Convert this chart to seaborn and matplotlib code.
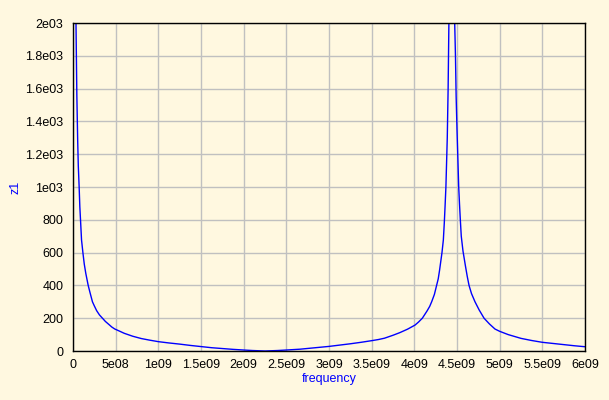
import numpy as np
import pandas as pd
import matplotlib
matplotlib.use("Agg")
import matplotlib.pyplot as plt
import seaborn as sns

# frequency in GHz (scaled to Hz below) and impedance magnitude z1
freq_ghz = [0.02, 0.027, 0.035, 0.045, 0.055, 0.062, 0.072, 0.08, 0.088, 0.1,
            0.116, 0.132, 0.15, 0.178, 0.2, 0.228, 0.25, 0.277, 0.31, 0.345,
            0.38, 0.42, 0.455, 0.49, 0.55, 0.6, 0.7, 0.8, 0.9, 1.0,
            1.125, 1.25, 1.375, 1.5, 1.625, 1.75, 1.875, 2.0, 2.1, 2.2,
            2.25, 2.3, 2.4, 2.5, 2.66, 2.8, 2.9, 3.0, 3.125, 3.25,
            3.375, 3.5, 3.58, 3.65, 3.75, 3.83, 3.92, 4.008, 4.05, 4.094,
            4.15, 4.18, 4.203, 4.235, 4.261, 4.28, 4.295, 4.324, 4.34, 4.351,
            4.36, 4.37, 4.386, 4.396, 4.405, 4.44, 4.473, 4.482, 4.49, 4.5,
            4.52, 4.53, 4.539, 4.55, 4.57, 4.6, 4.62, 4.641, 4.67, 4.711,
            4.76, 4.817, 4.88, 4.945, 5.0, 5.1, 5.25, 5.375, 5.5, 5.625,
            5.75, 5.875, 6.0]
z1 = [3600, 2650, 2000, 1560, 1280, 1130, 1000, 880, 800, 677,
      600, 530, 473, 400, 355, 300, 275, 246, 220, 200,
      180, 162, 146, 134, 120, 108, 90, 76, 66, 57,
      49, 42, 34, 27, 20, 15, 10, 6, 3, 1,
      0, 1, 3, 6, 11, 18, 23, 28, 36, 44,
      53, 63, 70, 78, 96, 112, 133, 158, 177, 200,
      245, 272, 300, 345, 400, 440, 490, 600, 677, 780,
      880, 1000, 1300, 1600, 2000, 8000, 2000, 1800, 1550, 1350,
      1000, 890, 800, 700, 610, 515, 455, 400, 350, 300,
      250, 200, 165, 134, 120, 100, 77, 64, 53, 46,
      39, 32, 26]

x_ticks = [0, 5e8, 1e9, 1.5e9, 2e9, 2.5e9, 3e9, 3.5e9, 4e9, 4.5e9, 5e9, 5.5e9, 6e9]
x_tick_labels = ["0", "5e08", "1e09", "1.5e09", "2e09", "2.5e09", "3e09",
                 "3.5e09", "4e09", "4.5e09", "5e09", "5.5e09", "6e09"]
y_ticks = [0, 200, 400, 600, 800, 1000, 1200, 1400, 1600, 1800, 2000]
y_tick_labels = ["0", "200", "400", "600", "800", "1e03", "1.2e03",
                 "1.4e03", "1.6e03", "1.8e03", "2e03"]

df = pd.DataFrame({"frequency": np.array(freq_ghz) * 1e9, "z1": z1})

bg = "#FFF8E0"
sns.set_theme(style="white")
plt.rcParams["font.family"] = ["Liberation Sans", "DejaVu Sans"]

fig = plt.figure(figsize=(6.09, 4.0), dpi=100, facecolor=bg)
ax = fig.add_axes([73 / 609, 49 / 400, 512 / 609, 328 / 400])
ax.set_facecolor(bg)

sns.lineplot(data=df, x="frequency", y="z1", ax=ax, color="#0000FF",
             linewidth=1.0, sort=False)

ax.set_xlim(0, 6e9)
ax.set_ylim(0, 2000)
ax.set_xticks(x_ticks)
ax.set_xticklabels(x_tick_labels)
ax.set_yticks(y_ticks)
ax.set_yticklabels(y_tick_labels)
ax.grid(True, color="#C0C0C0", linewidth=1.0)
ax.set_axisbelow(True)
for s in ax.spines.values():
    s.set_visible(True)
    s.set_color("black")
    s.set_linewidth(1.0)
ax.tick_params(axis="both", direction="out", length=4, width=1, color="black",
               labelsize=9, labelcolor="black", pad=1.5)
ax.tick_params(axis="y", pad=3)

ax.set_xlabel("frequency", color="#0000FF", fontsize=9)
ax.set_ylabel("z1", color="#0000FF", fontsize=9)
ax.xaxis.set_label_coords(0.5, -0.066)
ax.yaxis.set_label_coords(-0.1, 0.5)

fig.savefig("out.png", dpi=100, facecolor=bg)
